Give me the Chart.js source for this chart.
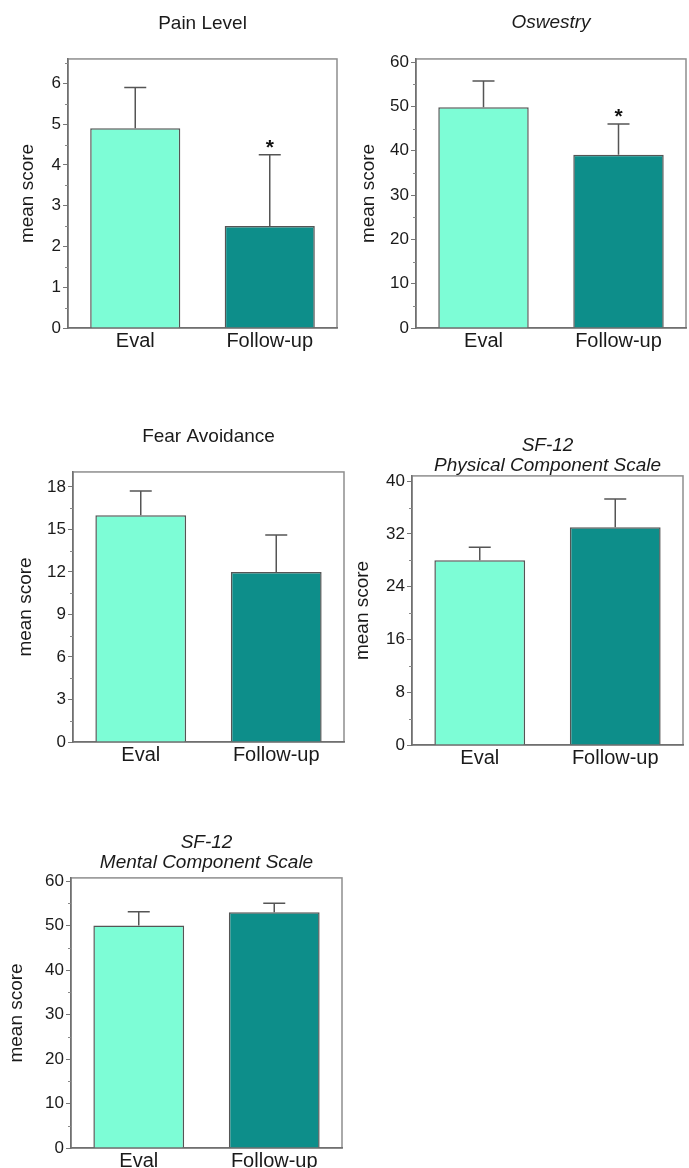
<!DOCTYPE html>
<html><head><meta charset="utf-8">
<script src="https://cdn.jsdelivr.net/npm/chart.js@4.4.0/dist/chart.umd.min.js"></script>
<style>
html,body{margin:0;padding:0;background:#fff;width:689px;height:1168px;overflow:hidden;position:relative}
canvas{position:absolute;display:block}
</style></head><body>
<canvas id="c1" width="345" height="360" style="left:0;top:0"></canvas>
<canvas id="c2" width="344" height="360" style="left:345px;top:0"></canvas>
<canvas id="c3" width="345" height="390" style="left:0;top:390px"></canvas>
<canvas id="c4" width="344" height="390" style="left:345px;top:390px"></canvas>
<canvas id="c5" width="345" height="368" style="left:0;top:800px"></canvas>
<script>
// ---- data ----
const categories = ['Eval', 'Follow-up'];
const barColors = ['#7dfdd6', '#0d8e8a'];

const painMeans = [4.9, 2.5];
const painUpper = [5.9, 4.25];
const painSig = [false, true];
const painTicks = [0, 1, 2, 3, 4, 5, 6];

const oswMeans = [49.8, 39.1];
const oswUpper = [55.7, 46.0];
const oswSig = [false, true];
const oswTicks = [0, 10, 20, 30, 40, 50, 60];

const fearMeans = [16.0, 12.0];
const fearUpper = [17.7, 14.6];
const fearSig = [false, false];
const fearTicks = [0, 3, 6, 9, 12, 15, 18];

const pcsMeans = [28.0, 33.0];
const pcsUpper = [30.0, 37.3];
const pcsSig = [false, false];
const pcsTicks = [0, 8, 16, 24, 32, 40];

const mcsMeans = [50.0, 53.0];
const mcsUpper = [53.1, 55.0];
const mcsSig = [false, false];
const mcsTicks = [0, 10, 20, 30, 40, 50, 60];

const FONT = "'Liberation Sans', Arial, sans-serif";
const TEXT = '#1a1a1a';

const framePlugin = {
  id: 'frame',
  beforeDraw(chart) {
    const {ctx, chartArea: a} = chart;
    ctx.save();
    ctx.strokeStyle = '#8e8e8e';
    ctx.lineWidth = 1.5;
    ctx.strokeRect(a.left, a.top, a.right - a.left, a.bottom - a.top);
    ctx.restore();
  }
};

const extrasPlugin = {
  id: 'extras',
  afterDatasetsDraw(chart, args, opts) {
    const {ctx} = chart;
    const y = chart.scales.y;
    const meta = chart.getDatasetMeta(0);
    ctx.save();
    ctx.strokeStyle = '#555';
    ctx.lineWidth = 1.5;
    for (let i = 0; i < opts.upper.length; i++) {
      const bar = meta.data[i];
      const yt = y.getPixelForValue(opts.upper[i]);
      ctx.beginPath();
      ctx.moveTo(bar.x, bar.y);
      ctx.lineTo(bar.x, yt);
      ctx.moveTo(bar.x - 11, yt);
      ctx.lineTo(bar.x + 11, yt);
      ctx.stroke();
      if (opts.sig[i]) {
        ctx.fillStyle = '#111';
        ctx.font = 'bold 21px ' + FONT;
        ctx.textAlign = 'center';
        ctx.textBaseline = 'alphabetic';
        ctx.fillText('*', bar.x, yt - 1);
      }
    }
    // minor ticks
    ctx.strokeStyle = '#888';
    ctx.lineWidth = 1;
    for (let k = 1; opts.minor * k < y.max; k += 2) {
      const py = Math.round(y.getPixelForValue(opts.minor * k)) + 0.5;
      ctx.beginPath();
      ctx.moveTo(y.right - 3, py);
      ctx.lineTo(y.right, py);
      ctx.stroke();
    }
    ctx.restore();
  }
};

function makeChart(cfg) {
  return new Chart(document.getElementById(cfg.id), {
    type: 'bar',
    data: {
      labels: categories,
      datasets: [{
        data: cfg.means,
        backgroundColor: barColors,
        borderColor: '#555',
        borderWidth: 1.5,
        categoryPercentage: 0.67,
        barPercentage: 1
      }]
    },
    plugins: [framePlugin, extrasPlugin],
    options: {
      responsive: false,
      animation: false,
      devicePixelRatio: 1,
      layout: { padding: { left: cfg.pl, right: cfg.pr, top: 0, bottom: 0 } },
      plugins: {
        legend: { display: false },
        tooltip: { enabled: false },
        title: {
          display: true, text: cfg.title, fullSize: false, color: TEXT,
          font: { size: 19, family: FONT, style: cfg.italic ? 'italic' : 'normal', weight: 'normal', lineHeight: 1.05 },
          padding: { top: cfg.tp, bottom: cfg.tb }
        },
        extras: { upper: cfg.upper, sig: cfg.sig, minor: cfg.minor }
      },
      scales: {
        x: {
          afterFit: s => { s.height = cfg.xh; },
          grid: { display: false, drawTicks: false },
          border: { display: true, color: '#707070', width: 1.5 },
          ticks: { color: TEXT, font: { size: 20, family: FONT }, padding: 1 }
        },
        y: {
          min: 0, max: cfg.max,
          afterBuildTicks: s => { s.ticks = cfg.ticks.map(v => ({ value: v })); },
          afterFit: s => { s.width = cfg.yw; },
          grid: { drawOnChartArea: false, drawTicks: true, tickLength: 5, color: '#777', lineWidth: 1 },
          border: { display: true, color: '#707070', width: 1.5 },
          ticks: { color: TEXT, font: { size: 17, family: FONT }, padding: 2 },
          title: { display: true, text: 'mean score', color: TEXT, font: { size: 19, family: FONT }, padding: 0 }
        }
      }
    }
  });
}

makeChart({ id: 'c1', title: 'Pain Level', italic: false, means: painMeans, upper: painUpper, sig: painSig,
  ticks: painTicks, minor: 0.5, max: 6.6, pl: 16.6, yw: 51.4, pr: 8, xh: 32, tp: 14, tb: 25 });
makeChart({ id: 'c2', title: 'Oswestry', italic: true, means: oswMeans, upper: oswUpper, sig: oswSig,
  ticks: oswTicks, minor: 5, max: 60.7, pl: 12.6, yw: 58.4, pr: 3, xh: 32, tp: 13, tb: 26 });
makeChart({ id: 'c3', title: 'Fear Avoidance', italic: false, means: fearMeans, upper: fearUpper, sig: fearSig,
  ticks: fearTicks, minor: 1.5, max: 19.05, pl: 14.6, yw: 58.4, pr: 1, xh: 38, tp: 37, tb: 25 });
makeChart({ id: 'c4', title: ['SF-12', 'Physical Component Scale'], italic: true, means: pcsMeans, upper: pcsUpper, sig: pcsSig,
  ticks: pcsTicks, minor: 4, max: 40.8, pl: 6.6, yw: 60.4, pr: 6, xh: 35, tp: 46, tb: 0 });
makeChart({ id: 'c5', title: ['SF-12', 'Mental Component Scale'], italic: true, means: mcsMeans, upper: mcsUpper, sig: mcsSig,
  ticks: mcsTicks, minor: 5, max: 60.7, pl: 5.6, yw: 65.4, pr: 3, xh: 20, tp: 33, tb: 5 });
</script>
</body></html>
